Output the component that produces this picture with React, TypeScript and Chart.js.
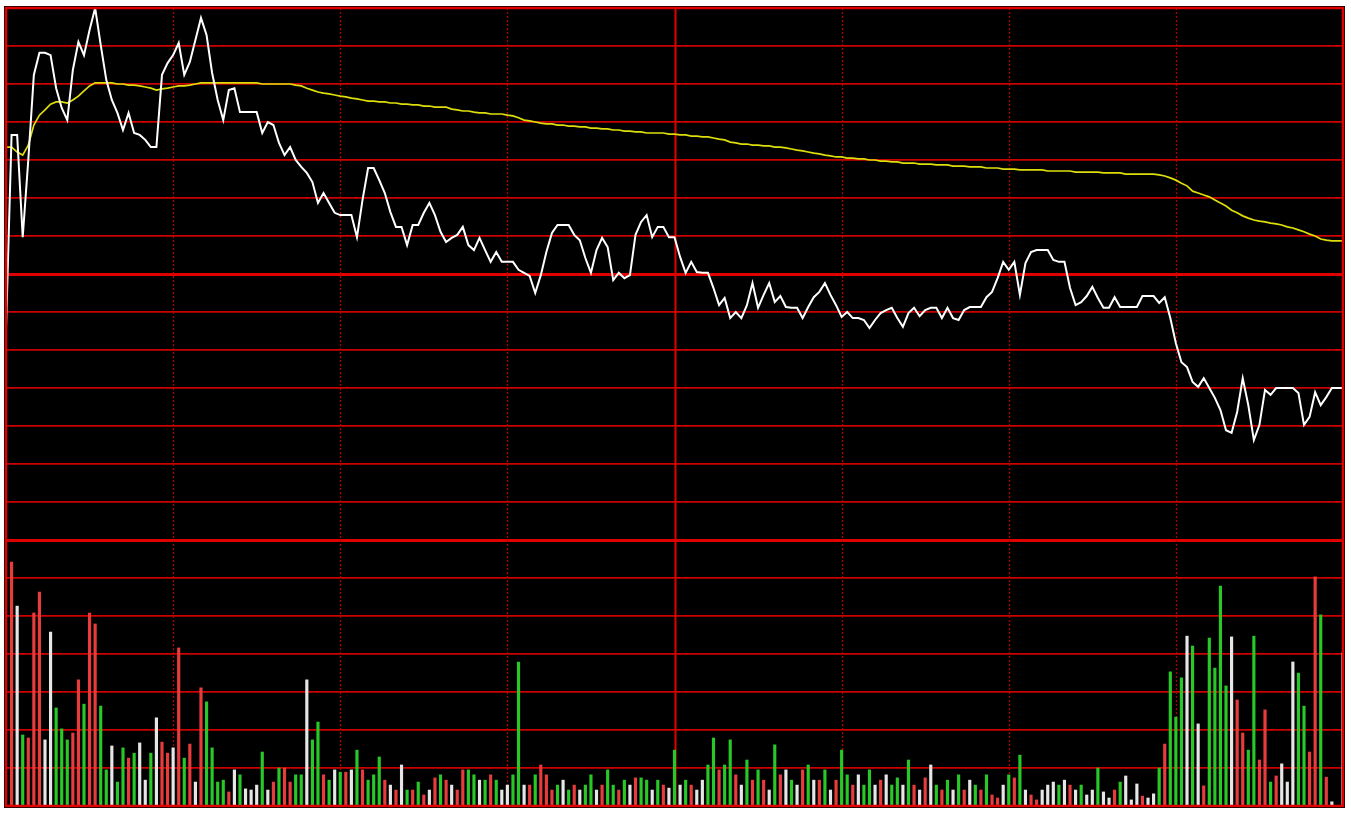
import { useEffect, useRef } from "react";
import { Chart, registerables } from "chart.js";
Chart.register(...registerables);

// price change vs previous close, percent (one grid step = 1%)
const PRICE = [
  -1.47, 3.66, 3.66, 0.97, 3.00, 5.24, 5.82, 5.82, 5.76, 4.89,
  4.37, 4.05, 5.37, 6.11, 5.76, 6.42, 7.00, 6.03, 5.11, 4.58,
  4.24, 3.79, 4.24, 3.71, 3.66, 3.53, 3.34, 3.34, 5.24, 5.55,
  5.76, 6.08, 5.24, 5.58, 6.16, 6.74, 6.29, 5.29, 4.58, 4.05,
  4.84, 4.89, 4.26, 4.26, 4.26, 4.26, 3.71, 4.00, 3.92, 3.45,
  3.13, 3.34, 3.00, 2.82, 2.66, 2.42, 1.87, 2.13, 1.87, 1.61,
  1.55, 1.55, 1.55, 0.97, 1.95, 2.79, 2.79, 2.47, 2.13, 1.63,
  1.24, 1.24, 0.76, 1.29, 1.29, 1.61, 1.87, 1.55, 1.11, 0.84,
  0.95, 1.03, 1.24, 0.76, 0.63, 0.95, 0.63, 0.32, 0.58, 0.32,
  0.32, 0.32, 0.11, 0.03, -0.05, -0.50, -0.03, 0.58, 1.08, 1.29,
  1.29, 1.29, 1.03, 0.89, 0.42, 0.03, 0.63, 0.95, 0.71, -0.16,
  0.03, -0.11, -0.03, 1.03, 1.37, 1.55, 0.97, 1.24, 1.24, 0.97,
  0.97, 0.45, 0.03, 0.32, 0.05, 0.03, 0.03, -0.37, -0.82, -0.63,
  -1.16, -1.00, -1.16, -0.82, -0.24, -0.89, -0.55, -0.24, -0.74, -0.58,
  -0.87, -0.89, -0.89, -1.16, -0.87, -0.61, -0.47, -0.24, -0.55, -0.82,
  -1.13, -1.00, -1.16, -1.16, -1.21, -1.42, -1.21, -1.03, -0.95, -0.89,
  -1.16, -1.39, -1.03, -0.89, -1.11, -0.95, -0.89, -0.89, -1.16, -0.89,
  -1.16, -1.21, -0.95, -0.87, -0.87, -0.87, -0.61, -0.47, -0.11, 0.32,
  0.11, 0.32, -0.55, 0.29, 0.58, 0.63, 0.63, 0.63, 0.37, 0.32,
  0.32, -0.37, -0.82, -0.74, -0.58, -0.34, -0.63, -0.89, -0.89, -0.61,
  -0.87, -0.87, -0.87, -0.87, -0.58, -0.58, -0.58, -0.76, -0.61, -1.16,
  -1.82, -2.32, -2.45, -2.84, -2.97, -2.74, -3.00, -3.26, -3.58, -4.11,
  -4.18, -3.63, -2.74, -3.45, -4.37, -3.97, -3.05, -3.18, -3.00, -3.00,
  -3.00, -3.00, -3.13, -3.97, -3.76, -3.11, -3.45, -3.24, -3.00, -3.00,
  -3.00,
];

// average price line, percent
const AVERAGE = [
  3.34, 3.34, 3.21, 3.13, 3.39, 3.92, 4.18, 4.32, 4.47, 4.53,
  4.53, 4.50, 4.58, 4.68, 4.82, 4.95, 5.03, 5.03, 5.03, 5.03,
  5.00, 5.00, 4.97, 4.97, 4.95, 4.92, 4.89, 4.84, 4.87, 4.89,
  4.92, 4.95, 4.95, 4.97, 5.00, 5.03, 5.03, 5.03, 5.03, 5.03,
  5.03, 5.03, 5.03, 5.03, 5.03, 5.03, 5.00, 5.00, 5.00, 5.00,
  5.00, 5.00, 4.97, 4.95, 4.89, 4.84, 4.79, 4.76, 4.74, 4.71,
  4.68, 4.66, 4.63, 4.61, 4.58, 4.55, 4.55, 4.53, 4.53, 4.50,
  4.50, 4.47, 4.47, 4.45, 4.45, 4.42, 4.42, 4.39, 4.39, 4.39,
  4.34, 4.32, 4.29, 4.29, 4.26, 4.24, 4.24, 4.21, 4.21, 4.21,
  4.18, 4.16, 4.11, 4.05, 4.03, 4.00, 3.97, 3.95, 3.95, 3.92,
  3.92, 3.89, 3.89, 3.87, 3.87, 3.84, 3.84, 3.82, 3.82, 3.79,
  3.79, 3.76, 3.76, 3.74, 3.74, 3.71, 3.71, 3.71, 3.71, 3.68,
  3.68, 3.66, 3.66, 3.63, 3.63, 3.61, 3.61, 3.58, 3.55, 3.53,
  3.47, 3.45, 3.42, 3.42, 3.39, 3.39, 3.37, 3.37, 3.34, 3.34,
  3.32, 3.29, 3.26, 3.24, 3.21, 3.18, 3.16, 3.13, 3.11, 3.08,
  3.08, 3.05, 3.05, 3.03, 3.03, 3.00, 3.00, 2.97, 2.97, 2.95,
  2.95, 2.92, 2.92, 2.92, 2.89, 2.89, 2.89, 2.87, 2.87, 2.87,
  2.84, 2.84, 2.84, 2.82, 2.82, 2.82, 2.79, 2.79, 2.79, 2.76,
  2.76, 2.76, 2.74, 2.74, 2.74, 2.74, 2.74, 2.71, 2.71, 2.71,
  2.71, 2.71, 2.68, 2.68, 2.68, 2.68, 2.68, 2.66, 2.66, 2.66,
  2.66, 2.63, 2.63, 2.63, 2.63, 2.63, 2.63, 2.61, 2.58, 2.53,
  2.47, 2.39, 2.32, 2.18, 2.13, 2.08, 2.03, 1.95, 1.87, 1.79,
  1.68, 1.61, 1.53, 1.47, 1.42, 1.39, 1.37, 1.34, 1.32, 1.29,
  1.24, 1.21, 1.16, 1.11, 1.05, 1.00, 0.92, 0.89, 0.87, 0.87,
  0.87,
];

// volume per minute (lots)
const VOLUME = [
  0, 6420, 5260, 1870, 1790, 5080, 5630, 1740, 4580, 2580,
  2030, 1740, 1920, 3320, 2680, 5080, 4790, 2630, 950, 1580,
  630, 1530, 1260, 1390, 1660, 680, 1390, 2320, 1680, 1390,
  1530, 4160, 1260, 1630, 630, 3110, 2740, 1530, 630, 680,
  370, 950, 820, 450, 420, 550, 1420, 420, 630, 1000,
  1000, 630, 820, 820, 3320, 1740, 2210, 820, 680, 950,
  890, 890, 950, 1470, 950, 680, 820, 1290, 680, 550,
  420, 1080, 420, 420, 630, 290, 420, 740, 820, 680,
  550, 420, 950, 950, 820, 680, 680, 820, 680, 420,
  550, 820, 3790, 550, 550, 820, 1080, 820, 420, 550,
  680, 420, 550, 420, 550, 820, 420, 550, 950, 550,
  420, 680, 550, 740, 740, 680, 420, 680, 550, 470,
  1470, 550, 680, 550, 420, 680, 1080, 1790, 950, 1080,
  1740, 820, 550, 1210, 680, 950, 680, 420, 1610, 820,
  950, 680, 550, 950, 1080, 680, 680, 950, 420, 680,
  1470, 820, 550, 820, 550, 950, 550, 680, 820, 550,
  740, 550, 1210, 550, 420, 740, 1080, 550, 420, 680,
  420, 820, 420, 680, 550, 420, 820, 290, 210, 550,
  820, 740, 1340, 420, 290, 160, 420, 550, 630, 550,
  680, 550, 420, 550, 290, 420, 1000, 370, 210, 420,
  630, 790, 160, 580, 260, 210, 320, 1000, 1630, 3530,
  2340, 3370, 4470, 4210, 2160, 530, 4420, 3630, 5790, 3160,
  4450, 2790, 1920, 1470, 4470, 1210, 2530, 630, 790, 1110,
  630, 3790, 3500, 2630, 1420, 6030, 5030, 760, 110, 0,
  4030,
];

// bar direction: r = up tick, g = down tick, w = unchanged
const VOLUME_SIDE = [
  "r","r","w","g","r","r","r","w","w","g",
  "g","g","r","r","g","r","r","g","g","w",
  "g","g","r","g","w","w","g","w","r","r",
  "w","r","g","r","w","r","g","g","g","g",
  "r","w","g","w","w","w","g","w","r","g",
  "r","r","g","g","w","g","g","r","g","w",
  "g","r","w","g","r","g","g","g","r","w",
  "r","w","g","r","g","r","w","r","g","r",
  "w","r","r","g","g","w","g","r","g","w",
  "w","g","g","w","r","g","r","r","r","g",
  "w","g","r","w","g","g","w","r","g","g",
  "r","g","w","r","g","g","w","g","r","w",
  "g","w","g","r","w","w","g","g","r","g",
  "g","r","w","g","r","g","r","w","g","r",
  "w","g","w","r","g","w","r","g","w","r",
  "g","g","r","w","g","g","w","r","w","g",
  "g","w","g","r","w","r","w","g","r","g",
  "w","g","r","w","g","r","g","r","r","w",
  "g","r","g","w","r","r","w","w","w","g",
  "w","r","w","g","w","w","g","w","w","r",
  "g","w","w","w","r","w","w","g","r","g",
  "g","g","w","g","w","r","g","g","g","g",
  "w","r","r","g","g","r","r","g","r","w",
  "w","w","g","g","r","r","g","r","w","w",
  "w",
];

// session markers drawn as vertical lines; the lunch break is solid
const SESSION_MARKS = ["10:00", "10:30", "11:00", "11:30", "13:30", "14:00", "14:30"];
const LUNCH_MARK = "11:30";

function buildMinuteLabels(): string[] {
  const out: string[] = [];
  const pad = (n: number) => String(n).padStart(2, "0");
  for (let m = 9 * 60 + 30; m <= 11 * 60 + 30; m++) out.push(`${pad(Math.floor(m / 60))}:${pad(m % 60)}`);
  for (let m = 13 * 60 + 1; m <= 15 * 60; m++) out.push(`${pad(Math.floor(m / 60))}:${pad(m % 60)}`);
  return out;
}
const LABELS = buildMinuteLabels();

const SIDE_COLORS: Record<string, string> = {
  r: "rgb(232,60,60)",
  g: "rgb(40,200,40)",
  w: "rgb(230,230,230)",
};

const GRID_RED = "rgb(205,0,0)";
const GRID_RED_STRONG = "rgb(225,0,0)";

const backgroundPlugin = {
  id: "blackArea",
  beforeDraw(chart: any) {
    const { ctx, chartArea } = chart;
    ctx.save();
    ctx.fillStyle = "#000";
    ctx.fillRect(chartArea.left - 2, chartArea.top - 2, chartArea.right - chartArea.left + 4, chartArea.bottom - chartArea.top + 4);
    ctx.restore();
  },
};

const sessionLinesPlugin = {
  id: "sessionLines",
  beforeDatasetsDraw(chart: any) {
    const { ctx, chartArea } = chart;
    const xs = chart.scales.x;
    ctx.save();
    for (const mark of SESSION_MARKS) {
      const idx = LABELS.indexOf(mark);
      if (idx < 0) continue;
      const px = Math.round(xs.getPixelForValue(idx)) + 0.5;
      ctx.beginPath();
      if (mark === LUNCH_MARK) {
        ctx.setLineDash([]);
        ctx.lineWidth = 2;
        ctx.strokeStyle = GRID_RED_STRONG;
      } else {
        ctx.setLineDash([2, 2]);
        ctx.lineWidth = 1.3;
        ctx.strokeStyle = "rgb(175,0,0)";
      }
      ctx.moveTo(px, chartArea.top);
      ctx.lineTo(px, chartArea.bottom);
      ctx.stroke();
    }
    ctx.restore();
  },
};

const borderPlugin = {
  id: "frame",
  afterDraw(chart: any) {
    const { ctx, chartArea } = chart;
    ctx.save();
    ctx.strokeStyle = GRID_RED_STRONG;
    ctx.lineWidth = 2.5;
    ctx.strokeRect(chartArea.left, chartArea.top, chartArea.right - chartArea.left, chartArea.bottom - chartArea.top);
    ctx.restore();
  },
};

export default function App() {
  const canvasRef = useRef<HTMLCanvasElement | null>(null);

  useEffect(() => {
    document.body.style.margin = "0";
    document.body.style.background = "#fff";
    const canvas = canvasRef.current;
    if (!canvas) return;
    const chart = new Chart(canvas, {
      type: "line",
      data: {
        labels: LABELS,
        datasets: [
          {
            type: "line",
            label: "Price",
            data: PRICE,
            yAxisID: "price",
            borderColor: "#ffffff",
            borderWidth: 2,
            pointRadius: 0,
            tension: 0,
            order: 1,
          },
          {
            type: "line",
            label: "Average",
            data: AVERAGE,
            yAxisID: "price",
            borderColor: "rgb(222,222,10)",
            borderWidth: 1.7,
            pointRadius: 0,
            tension: 0,
            order: 2,
          },
          {
            type: "bar",
            label: "Volume",
            data: VOLUME,
            yAxisID: "volume",
            backgroundColor: VOLUME_SIDE.map((s) => SIDE_COLORS[s]),
            barThickness: 2.5,
            order: 3,
          } as any,
        ],
      },
      options: {
        responsive: false,
        animation: false,
        devicePixelRatio: 1,
        layout: { padding: { left: 6, right: 8, top: 8, bottom: 18 } },
        plugins: { legend: { display: false }, tooltip: { enabled: false } },
        scales: {
          x: {
            type: "category",
            offset: false,
            display: true,
            grid: { display: false, drawTicks: false },
            border: { display: false },
            ticks: { display: false },
          },
          volume: {
            type: "linear",
            position: "left",
            stack: "panels",
            stackWeight: 1,
            min: 0,
            max: 7000,
            ticks: { display: false, stepSize: 1000 },
            border: { display: false },
            grid: {
              drawTicks: false,
              color: (c: any) => (c.tick && c.tick.value === 7000 ? GRID_RED_STRONG : GRID_RED),
              lineWidth: (c: any) => (c.tick && c.tick.value === 7000 ? 3 : 1.7),
            },
          },
          price: {
            type: "linear",
            position: "left",
            stack: "panels",
            stackWeight: 2,
            min: -7,
            max: 7,
            ticks: { display: false, stepSize: 1 },
            border: { display: false },
            grid: {
              drawTicks: false,
              color: (c: any) => (c.tick && (c.tick.value === 0 || c.tick.value === -7) ? GRID_RED_STRONG : GRID_RED),
              lineWidth: (c: any) => (c.tick && (c.tick.value === 0 || c.tick.value === -7) ? 3 : 1.7),
            },
          },
        },
      } as any,
      plugins: [backgroundPlugin, sessionLinesPlugin, borderPlugin],
    });
    return () => chart.destroy();
  }, []);

  return (
    <div style={{ position: "fixed", left: 0, top: 0, width: 1351, height: 824, background: "#fff" }}>
      <canvas ref={canvasRef} width={1351} height={824} />
    </div>
  );
}
